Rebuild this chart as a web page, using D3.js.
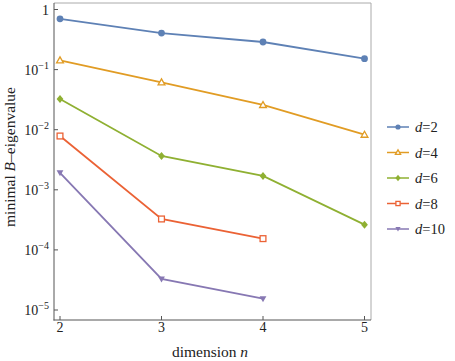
<!DOCTYPE html>
<html>
<head>
<meta charset="utf-8">
<script src="https://cdn.jsdelivr.net/npm/d3@7"></script>
<style>
body { margin: 0; background: #fff; }
svg text { font-family: "Liberation Serif", "DejaVu Serif", serif; fill: #222; }
</style>
</head>
<body>
<script>
var width = 455, height = 361;

// data
var dims = [2, 3, 4, 5];
var d2 = [0.70, 0.406, 0.288, 0.152];
var d4 = [0.143, 0.0615, 0.0258, 0.00826];
var d6 = [0.0324, 0.00365, 0.00170, 0.000263];
var d8 = [0.00785, 0.000327, 0.000154];
var d10 = [0.00192, 0.0000328, 0.0000154];
var seriesNames = ["d=2", "d=4", "d=6", "d=8", "d=10"];
var yTickExp = [0, -1, -2, -3, -4, -5];

var colors = ["#5e81b5", "#e19c24", "#8fb032", "#eb6235", "#8778b3"];
var markers = ["circle", "triUpOpen", "diamond", "squareOpen", "triDown"];
var series = [d2, d4, d6, d8, d10];

// frame
var frame = {left: 54, right: 371, top: 3, bottom: 320};

var svg = d3.select("body").append("svg")
    .attr("width", width)
    .attr("height", height);

var x = d3.scaleLinear().domain([2, 5]).range([60, 364.5]);
var y = d3.scaleLog().domain([1e-5, 1]).range([310, 9.5]);

// frame lines: top/right light, left/bottom dark
svg.append("line").attr("x1", frame.left).attr("x2", frame.right).attr("y1", frame.top).attr("y2", frame.top)
    .attr("stroke", "#aaa").attr("stroke-width", 1);
svg.append("line").attr("x1", frame.right).attr("x2", frame.right).attr("y1", frame.top).attr("y2", frame.bottom)
    .attr("stroke", "#aaa").attr("stroke-width", 1);
svg.append("line").attr("x1", frame.left).attr("x2", frame.left).attr("y1", frame.top).attr("y2", frame.bottom + 0.5)
    .attr("stroke", "#555").attr("stroke-width", 1);
svg.append("line").attr("x1", frame.left - 0.5).attr("x2", frame.right).attr("y1", frame.bottom).attr("y2", frame.bottom)
    .attr("stroke", "#555").attr("stroke-width", 1);

// x ticks
dims.forEach(function(n) {
    svg.append("line").attr("x1", x(n)).attr("x2", x(n))
        .attr("y1", frame.bottom).attr("y2", frame.bottom - 4)
        .attr("stroke", "#555");
    svg.append("text").attr("x", x(n)).attr("y", frame.bottom + 11.5)
        .attr("text-anchor", "middle").attr("font-size", 14).text(n);
});

// y ticks
yTickExp.forEach(function(e) {
    var yy = y(Math.pow(10, e));
    svg.append("line").attr("x1", frame.left).attr("x2", frame.left + 4)
        .attr("y1", yy).attr("y2", yy).attr("stroke", "#555");
    var t = svg.append("text").attr("x", frame.left - 5).attr("y", yy + 5)
        .attr("text-anchor", "end").attr("font-size", 14);
    if (e === 0) {
        t.text("1");
    } else {
        t.append("tspan").text("10");
        t.append("tspan").attr("dy", -6).attr("font-size", 10).text("\u2212" + (-e));
    }
});

// axis labels
svg.append("text").attr("x", 210).attr("y", 357).attr("text-anchor", "middle").attr("font-size", 15.5)
    .call(function(t) {
        t.append("tspan").text("dimension ");
        t.append("tspan").attr("font-style", "italic").text("n");
    });
svg.append("text").attr("transform", "translate(14.5,157) rotate(-90)")
    .attr("text-anchor", "middle").attr("font-size", 15.5)
    .call(function(t) {
        t.append("tspan").text("minimal ");
        t.append("tspan").attr("font-style", "italic").text("B");
        t.append("tspan").text("\u2013eigenvalue");
    });

function drawMarker(g, type, cx, cy, color, s) {
    if (type === "circle") {
        g.append("circle").attr("cx", cx).attr("cy", cy).attr("r", s).attr("fill", color);
    } else if (type === "triUpOpen") {
        g.append("path").attr("d", "M" + cx + "," + (cy - s) + "L" + (cx + s) + "," + (cy + s * 0.75) + "L" + (cx - s) + "," + (cy + s * 0.75) + "Z")
            .attr("fill", "#fff").attr("stroke", color).attr("stroke-width", 1.3);
    } else if (type === "diamond") {
        g.append("path").attr("d", "M" + cx + "," + (cy - s - 0.6) + "L" + (cx + s) + "," + cy + "L" + cx + "," + (cy + s + 0.6) + "L" + (cx - s) + "," + cy + "Z")
            .attr("fill", color);
    } else if (type === "squareOpen") {
        g.append("rect").attr("x", cx - s + 0.5).attr("y", cy - s + 0.5).attr("width", 2 * s - 1).attr("height", 2 * s - 1)
            .attr("fill", "#fff").attr("stroke", color).attr("stroke-width", 1.3);
    } else if (type === "triDown") {
        g.append("path").attr("d", "M" + cx + "," + (cy + s) + "L" + (cx + s) + "," + (cy - s * 0.75) + "L" + (cx - s) + "," + (cy - s * 0.75) + "Z")
            .attr("fill", color);
    }
}

var line = d3.line()
    .x(function(d) { return x(d[0]); })
    .y(function(d) { return y(d[1]); });

series.forEach(function(vals, i) {
    var pts = vals.map(function(v, j) { return [dims[j], v]; });
    var g = svg.append("g");
    g.append("path").datum(pts).attr("d", line)
        .attr("fill", "none").attr("stroke", colors[i]).attr("stroke-width", 1.8);
    pts.forEach(function(p) { drawMarker(g, markers[i], x(p[0]), y(p[1]), colors[i], 3.4); });
});

// legend
var legY0 = 127, legStep = 25.5;
seriesNames.forEach(function(name, i) {
    var ly = legY0 + i * legStep;
    var g = svg.append("g");
    g.append("line").attr("x1", 387).attr("x2", 409).attr("y1", ly).attr("y2", ly)
        .attr("stroke", colors[i]).attr("stroke-width", 1.5);
    drawMarker(g, markers[i], 398, ly, colors[i], 2.6);
    var t = g.append("text").attr("x", 415).attr("y", ly + 5).attr("font-size", 14.5);
    t.append("tspan").attr("font-style", "italic").text("d");
    t.append("tspan").text(name.slice(1));
});
</script>
</body>
</html>
